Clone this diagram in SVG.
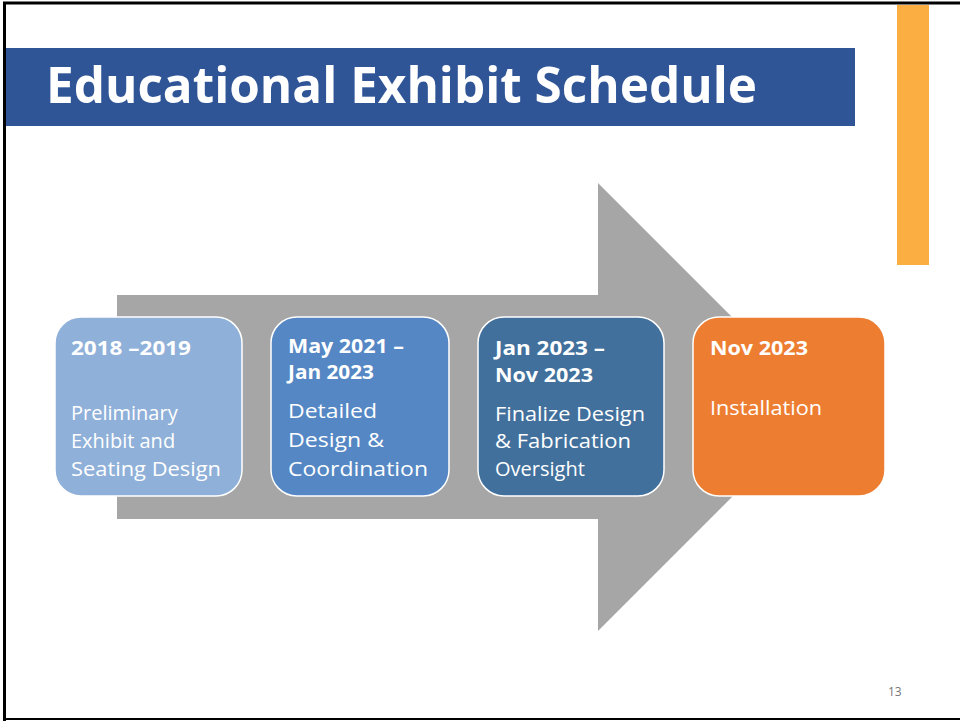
<svg xmlns="http://www.w3.org/2000/svg" width="960" height="721" viewBox="0 0 960 721">
<style>
.box{stroke:#fff;stroke-width:1.5}
.hd{font-family:"Open Sans","Liberation Sans",sans-serif;font-weight:bold;font-size:19px;fill:#fff}
.bd{font-family:"Open Sans","Liberation Sans",sans-serif;font-size:20px;fill:#fff}
</style>
<rect x="0" y="0" width="960" height="721" fill="#fff"/>
<path d="M4.5,721 V3 H960" fill="none" stroke="#000" stroke-width="3"/>
<line x1="4" y1="719" x2="960" y2="719" stroke="#000" stroke-width="2"/>
<rect x="897" y="5" width="32" height="260" fill="#FBAE42"/>
<g id="title">
<rect x="6" y="48" width="849" height="78" fill="#2F5597"/>
<text x="46" y="103" font-family="Open Sans, Liberation Sans, sans-serif" font-weight="bold" font-size="50" fill="#fff" textLength="711" lengthAdjust="spacingAndGlyphs">Educational Exhibit Schedule</text>
</g>
<g id="arrow">
<polygon points="117,295 598,295 598,183 822,407 598,631 598,519 117,519" fill="#A6A6A6"/>
</g>
<g id="box1">
<rect class="box" x="55" y="317" width="187" height="179" rx="26" fill="#8FB0D8"/>
<text class="hd" x="71" y="355" textLength="120" lengthAdjust="spacingAndGlyphs">2018 –2019</text>
<text class="bd" x="71" y="420">Preliminary</text>
<text class="bd" x="71" y="448">Exhibit and</text>
<text class="bd" x="71" y="476" textLength="150" lengthAdjust="spacingAndGlyphs">Seating Design</text>
</g>
<g id="box2">
<rect class="box" x="271" y="317" width="178" height="179" rx="26" fill="#5587C4"/>
<text class="hd" x="288" y="353" textLength="116" lengthAdjust="spacingAndGlyphs">May 2021 –</text>
<text class="hd" x="288" y="379" textLength="86" lengthAdjust="spacingAndGlyphs">Jan 2023</text>
<text class="bd" x="288" y="418" font-size="22" textLength="89" lengthAdjust="spacingAndGlyphs">Detailed</text>
<text class="bd" x="288" y="447" font-size="22" textLength="96" lengthAdjust="spacingAndGlyphs">Design &amp;</text>
<text class="bd" x="288" y="476" font-size="22" textLength="140" lengthAdjust="spacingAndGlyphs">Coordination</text>
</g>
<g id="box3">
<rect class="box" x="478" y="317" width="186" height="179" rx="26" fill="#41709C"/>
<text class="hd" x="495" y="355" textLength="110" lengthAdjust="spacingAndGlyphs">Jan 2023 –</text>
<text class="hd" x="495" y="382" textLength="98" lengthAdjust="spacingAndGlyphs">Nov 2023</text>
<text class="bd" x="495" y="421" textLength="150" lengthAdjust="spacingAndGlyphs">Finalize Design</text>
<text class="bd" x="495" y="448" textLength="136" lengthAdjust="spacingAndGlyphs">&amp; Fabrication</text>
<text class="bd" x="495" y="476">Oversight</text>
</g>
<g id="box4">
<rect class="box" x="693" y="317" width="192" height="179" rx="26" fill="#ED7D31"/>
<text class="hd" x="710" y="355" textLength="98" lengthAdjust="spacingAndGlyphs">Nov 2023</text>
<text class="bd" x="710" y="415" textLength="112" lengthAdjust="spacingAndGlyphs">Installation</text>
</g>
<text x="888" y="696" font-family="Open Sans, Liberation Sans, sans-serif" font-size="12" fill="#777">13</text>
</svg>
